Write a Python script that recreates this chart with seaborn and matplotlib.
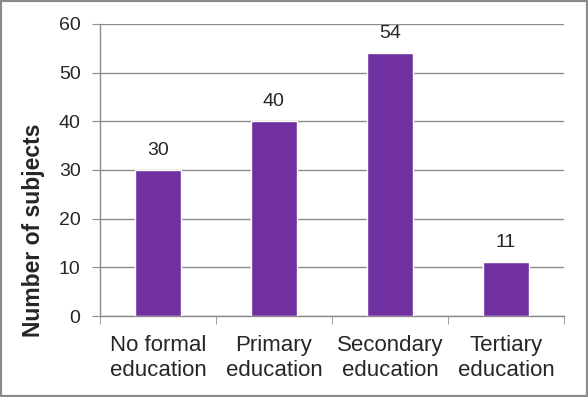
import matplotlib
matplotlib.use('Agg')
import matplotlib.pyplot as plt
import seaborn as sns
import pandas as pd
from matplotlib.patches import Rectangle

categories = ['No formal\neducation', 'Primary\neducation', 'Secondary\neducation', 'Tertiary\neducation']
counts = [30, 40, 54, 11]

sns.set_style('white')
plt.rcParams['font.family'] = ['Liberation Sans', 'DejaVu Sans']

df = pd.DataFrame({'level': categories, 'n': counts})

fig = plt.figure(figsize=(5.88, 3.97), dpi=100)
ax = fig.add_axes([0.170, 0.204, 0.789, 0.736])
sns.barplot(data=df, x='level', y='n', color='#7030A0', saturation=1, width=0.4, ax=ax, zorder=3)

ax.set_ylim(0, 60)
ax.set_xlim(-0.5, 3.5)
ax.set_yticks(range(0, 61, 10))
ax.yaxis.grid(True, color='#8c8c8c', linewidth=1, zorder=0)
ax.set_axisbelow(True)
for s in ['top', 'right']:
    ax.spines[s].set_visible(False)
for s in ['left', 'bottom']:
    ax.spines[s].set_color('#8c8c8c')
    ax.spines[s].set_linewidth(1)

ax.set_xticks([-0.5, 0.5, 1.5, 2.5, 3.5], minor=True)
ax.tick_params(axis='x', which='major', length=0, labelsize=16, pad=14)
ax.tick_params(axis='x', which='minor', length=6, color='#8c8c8c', bottom=True)
ax.tick_params(axis='y', length=6, color='#8c8c8c', labelsize=14, left=True, pad=8)
for lab in ax.get_xticklabels():
    lab.set_linespacing(1.2)
ax.set_xlabel('')
ax.set_ylabel('Number of subjects', fontsize=16.5, fontweight='bold')
ax.yaxis.set_label_coords(-0.118, 0.295)

for i, v in enumerate(counts):
    ax.text(i, v + 2.3, str(v), ha='center', va='bottom', fontsize=14)

fig.patches.append(Rectangle((0, 0), 1, 1, transform=fig.transFigure, fill=False,
                             edgecolor='#898989', linewidth=3, figure=fig))

fig.savefig('out.png', dpi=100)
